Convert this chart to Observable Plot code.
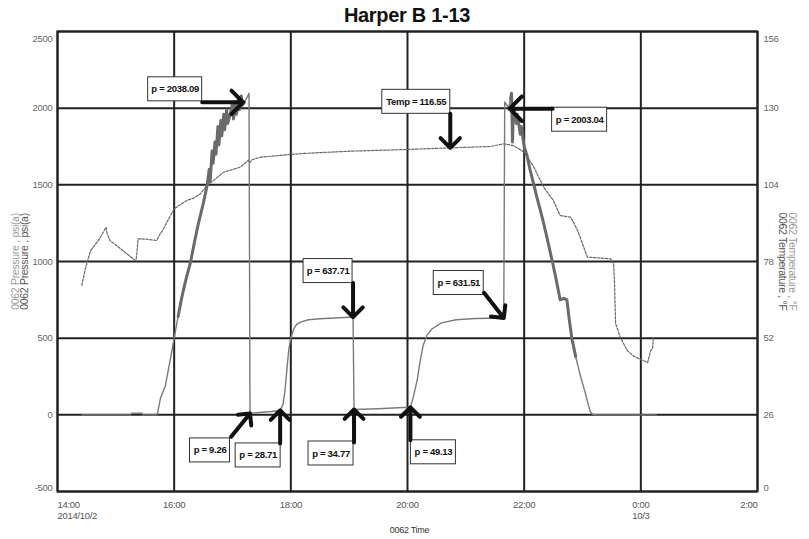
<!DOCTYPE html>
<html><head><meta charset="utf-8">
<script src="https://cdn.jsdelivr.net/npm/d3@7"></script>
<script src="https://cdn.jsdelivr.net/npm/@observablehq/plot@0.6"></script>
<style>
body{margin:0;background:#fff;font-family:"Liberation Sans",Arial,sans-serif;}
#title{height:26px;line-height:30px;text-align:center;font-weight:bold;font-size:20px;color:#111;padding-left:5px;white-space:nowrap;letter-spacing:-0.3px;}
#chart svg{display:block;}
#chart svg text{letter-spacing:-0.3px;}
</style></head><body>
<div id="title">Harper B 1-13</div>
<div id="chart"></div>
<script>
// ---------- data (times as HH:MM; hours before 12 belong to 2014/10/3) ----------
const pressureTimes = ["14:25","15:15","15:16","15:27","15:28","15:42","15:43","15:46","15:51","15:56","16:00","16:04","16:08","16:12","16:17","16:21","16:25","16:30","16:34",
  "16:36","16:37","16:39","16:40","16:42","16:43","16:45","16:46","16:48","16:49","16:51","16:52","16:54","16:55","16:58","17:00","17:01","17:03","17:04","17:06","17:07","17:09","17:10","17:12","17:15","17:17",
  "17:18","17:30","17:40","17:49","17:52","17:54","17:56","17:58","18:00","18:03","18:06","18:10","18:18","18:30","18:45","19:04",
  "19:05","19:30","19:50","20:03","20:06","20:10","20:13","20:16","20:20","20:25","20:35","20:50","21:10","21:39",
  "21:40","21:44","21:46","21:47","21:48","21:49","21:52","21:53","21:56","21:57","22:00","22:03","22:06","22:10","22:13","22:16","22:20","22:24","22:29","22:33","22:37","22:41","22:44","22:46","22:49","22:53","22:58","23:03","23:06","23:08","23:10","23:15","00:16"];
const pressureValues = [0,0,10,10,0,0,15,110,190,360,500,640,771,880,1000,1130,1250,1380,1500,
  1600,1520,1720,1640,1780,1700,1880,1760,1920,1820,1960,1860,1990,1900,1970,2030,1930,2040,1960,2060,1990,2080,2020,2038.09,2070,2097,
  9.26,17,22,28.71,70,160,300,430,500,560,590,605,620,627,632,637.71,
  34.77,40,46,49.13,117,228,350,450,520,560,600,620,628,631.51,
  2040,2003.04,2060,2097,1780,2010,1900,1960,1830,1880,1750,1690,1600,1500,1420,1350,1250,1140,1000,880,750,760,750,640,500,380,250,140,65,20,5,0,0];

const tempTimes = ["14:25","14:27","14:29","14:34","14:42","14:50","14:51","14:54","15:05","15:20","15:21","15:23","15:30","15:42","15:45","15:48","16:00","16:13","16:20","16:27","16:34","16:51","17:08","17:16","17:18","17:20","17:29","18:10","19:00","20:00","20:44","21:25","21:39","21:49","22:00","22:10","22:20","22:30","22:37","22:48","22:55","23:05","23:29","23:32","23:33","23:34","23:39","23:46","23:52","00:07","00:10","00:12","00:13"];
const tempValues = [69.9,73,76,81.7,85.1,89.6,87.5,85.1,82.3,78.3,79,85.7,85.6,85.1,87,88.5,95.9,98.7,99.5,101,103.8,108.3,110,112.3,111.5,112.5,113.4,114.6,115.4,116,116.55,117.0,117.9,117.3,115.1,110,103.2,98.7,93.6,93,88.5,79.5,78.9,77.3,70,57,52.2,47.8,46,43.7,47.8,48.5,52.2];

const xTickTimes = ["14:00","16:00","18:00","20:00","22:00","00:00","02:00"];
const xTickLabels = ["14:00","16:00","18:00","20:00","22:00","0:00","2:00"];
const xTickDates = ["2014/10/2","","","","","10/3",""];
const pressureTicks = [-500,0,500,1000,1500,2000,2500];
const tempTicks = [0,26,52,78,104,130,156];

const calloutKinds = ["p","T","p","p","p","p","p","p","p"];
const calloutTimes = ["17:12","20:44","21:44","19:04","21:39","17:18","17:49","19:05","20:03"];
const calloutValues = [2038.09,116.55,2003.04,637.71,631.51,9.26,28.71,34.77,49.13];

// ---------- helpers / layout ----------
const parseFull = d3.utcParse("%Y-%m-%d %H:%M");
const parseT = s => parseFull((+s.slice(0,2) < 12 ? "2014-10-03 " : "2014-10-02 ") + s);
const tempToP = t => t * 3000 / 156 - 500;

const pressure = pressureTimes.map((t,i) => ({t: parseT(t), v: pressureValues[i]}));
const temperature = tempTimes.map((t,i) => ({t: parseT(t), v: tempToP(tempValues[i])}));
const xTicks = xTickTimes.map((t,i) => ({t: parseT(t), label: xTickLabels[i], date: xTickDates[i]}));

// box offset (px from target), box width, arrow length, arrow rotation
const calloutLayout = [
  {bx:-69, by:-13, w:54, len:41, rot:90, adx:-1, ady:0},
  {bx:-34, by:-46, w:68, len:34, rot:180, adx:0, ady:0},
  {bx:71, by:12, w:55, len:43, rot:-90, adx:1, ady:1},
  {bx:-25, by:-46, w:49, len:34, rot:180, adx:0, ady:0},
  {bx:-45, by:-35, w:50, len:32, rot:142, adx:0, ady:0},
  {bx:-40, by:37, w:40, len:30, rot:39, adx:0, ady:0},
  {bx:-22, by:45, w:45, len:33, rot:0, adx:0, ady:0},
  {bx:-23, by:44, w:45, len:33, rot:0, adx:0, ady:0},
  {bx:23, by:45, w:45, len:33, rot:0, adx:0, ady:0}
];
const callouts = calloutTimes.map((t,i) => ({
  t: parseT(t),
  y: calloutKinds[i] === "T" ? tempToP(calloutValues[i]) : calloutValues[i],
  label: (calloutKinds[i] === "T" ? "Temp = " : "p = ") + calloutValues[i],
  ...calloutLayout[i]
}));

const FONT = '"Liberation Sans",Arial,sans-serif';
const inWin = (d, a, b) => d.t >= parseT(a) && d.t <= parseT(b);
const TS = 9.5;

const marks = [
  Plot.ruleY(pressureTicks, {y: d => d, stroke: "#222", strokeWidth: 2}),
  Plot.ruleX(xTicks, {x: "t", stroke: "#222", strokeWidth: 2}),
  Plot.frame({stroke: "#222", strokeWidth: 2}),
  // temperature (dashed)
  Plot.line(temperature, {x: "t", y: "v", stroke: "#666", strokeWidth: 1.2, strokeDasharray: "2.5,1.5"}),
  // pressure
  Plot.line(pressure, {x: "t", y: "v", stroke: "#7a7a7a", strokeWidth: 1.4}),
  Plot.line(pressure.filter(d => inWin(d, "16:04", "17:13")), {x: "t", y: "v", stroke: "#6a6a6a", strokeWidth: 3}),
  Plot.line(pressure.filter(d => inWin(d, "21:46", "22:53")), {x: "t", y: "v", stroke: "#6a6a6a", strokeWidth: 3}),
  // left tick labels
  Plot.text(pressureTicks.filter(d => d > -500 && d < 2500), {y: d => d, text: d => String(d), frameAnchor: "left", dx: -5, textAnchor: "end", fill: "#666", fontSize: TS}),
  Plot.text([2500], {y: d => d, text: d => String(d), frameAnchor: "left", dx: -5, dy: 7, textAnchor: "end", fill: "#666", fontSize: TS}),
  Plot.text([-500], {y: d => d, text: d => String(d), frameAnchor: "left", dx: -5, dy: -4, textAnchor: "end", fill: "#666", fontSize: TS}),
  // right tick labels
  Plot.text(tempTicks.filter(d => d > 0 && d < 156), {y: d => tempToP(d), text: d => String(d), frameAnchor: "right", dx: 6, textAnchor: "start", fill: "#666", fontSize: TS}),
  Plot.text([156], {y: d => tempToP(d), text: d => String(d), frameAnchor: "right", dx: 6, dy: 7, textAnchor: "start", fill: "#666", fontSize: TS}),
  Plot.text([0], {y: d => tempToP(d), text: d => String(d), frameAnchor: "right", dx: 6, dy: -4, textAnchor: "start", fill: "#666", fontSize: TS}),
  // x tick labels
  Plot.text(xTicks.slice(0,1), {x: "t", text: "label", frameAnchor: "bottom", dy: 16, textAnchor: "start", fill: "#555", fontSize: TS}),
  Plot.text(xTicks.slice(1,-1), {x: "t", text: "label", frameAnchor: "bottom", dy: 16, textAnchor: "middle", fill: "#555", fontSize: TS}),
  Plot.text(xTicks.slice(-1), {x: "t", text: "label", frameAnchor: "bottom", dy: 16, textAnchor: "end", fill: "#555", fontSize: TS}),
  Plot.text(xTicks.slice(0,1), {x: "t", text: "date", frameAnchor: "bottom", dy: 27, textAnchor: "start", fill: "#555", fontSize: TS}),
  Plot.text(xTicks.slice(1).filter(d => d.date), {x: "t", text: "date", frameAnchor: "bottom", dy: 27, textAnchor: "middle", fill: "#555", fontSize: TS}),
  // axis titles
  Plot.text(["0062 Time"], {text: d => d, frameAnchor: "bottom", dx: 2, dy: 41, textAnchor: "middle", fill: "#333", fontSize: 9}),
  Plot.text(["0062 Pressure , psi(a)"], {text: d => d, frameAnchor: "left", textAnchor: "middle", dx: -42, rotate: -90, fill: "#9a9a9a", fontSize: 10.5}),
  Plot.text(["0062 Pressure , psi(a)"], {text: d => d, frameAnchor: "left", textAnchor: "middle", dx: -33, rotate: -90, fill: "#555", fontSize: 10.5}),
  Plot.text(["0062 Temperature , °F"], {text: d => d, frameAnchor: "right", textAnchor: "middle", dx: 25, rotate: 90, fill: "#555", fontSize: 10.5}),
  Plot.text(["0062 Temperature , °F"], {text: d => d, frameAnchor: "right", textAnchor: "middle", dx: 35, rotate: 90, fill: "#9a9a9a", fontSize: 10.5})
];

for (const c of callouts) {
  marks.push(Plot.rect([c], {x1: "t", x2: "t", y1: "y", y2: "y", dx: c.bx, dy: c.by,
    insetLeft: -c.w/2, insetRight: -c.w/2, insetTop: -12, insetBottom: -12,
    fill: "white", stroke: "#333", strokeWidth: 1}));
  marks.push(Plot.text([c], {x: "t", y: "y", text: "label", dx: c.bx, dy: c.by, fontWeight: "bold", fontSize: 9.5, fill: "#111"}));
  marks.push(Plot.vector([c], {x: "t", y: "y", length: c.len, rotate: c.rot, anchor: "end", dx: c.adx, dy: c.ady,
    stroke: "#111", strokeWidth: 4, r: 5}));
}

const plot = Plot.plot({
  width: 809, height: 513,
  marginTop: 5, marginBottom: 48, marginLeft: 57, marginRight: 52,
  style: {fontFamily: FONT, background: "white", overflow: "visible"},
  x: {type: "utc", domain: [parseT("14:00"), parseT("02:00")], axis: null},
  y: {domain: [-500, 2500], axis: null},
  marks
});
document.getElementById("chart").appendChild(plot);
</script></body></html>
